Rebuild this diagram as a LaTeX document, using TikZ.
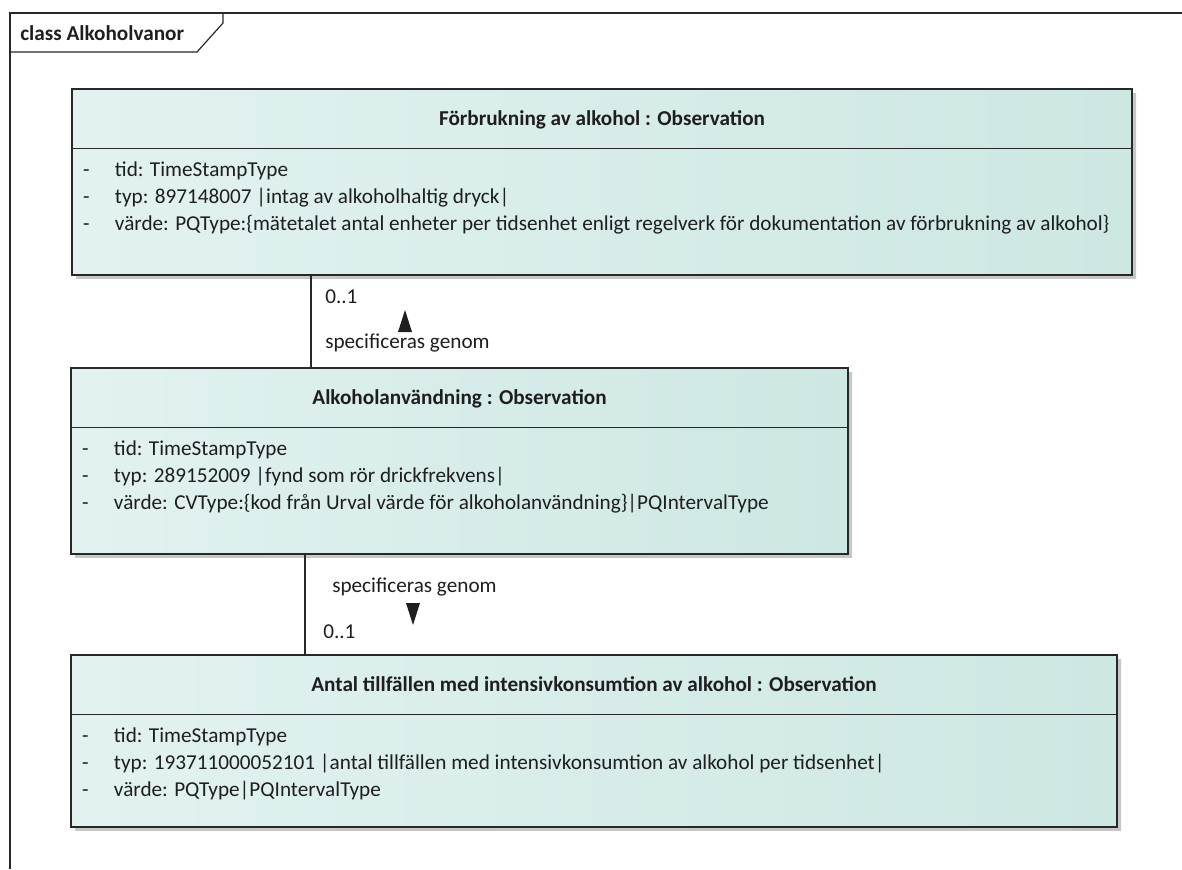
\documentclass[tikz,border=0pt]{standalone}
\usepackage{fontspec}
\setmainfont{Carlito}
\usetikzlibrary{positioning}
\usetikzlibrary{shapes.multipart}
\usetikzlibrary{shadows}

\definecolor{clsleft}{RGB}{226,242,241}
\definecolor{clsright}{RGB}{205,231,227}
\definecolor{clsline}{RGB}{40,40,40}
\definecolor{txt}{RGB}{30,30,30}

\newcommand{\attr}[1]{\makebox[24pt][l]{-}#1}
\newcommand{\headstrut}{\rule[-16.75pt]{0pt}{43.5pt}}
\newcommand{\firststrut}{\rule{0pt}{20.75pt}}

\begin{document}
\begin{tikzpicture}[
    x=0.75pt, y=-0.75pt,
    umlclass/.style={rectangle split, rectangle split parts=2,
        rectangle split part align={center,left},
        draw=clsline, line width=1.1pt, left color=clsleft, right color=clsright,
        inner xsep=8.25pt, inner ysep=0pt, outer sep=0pt, anchor=north west,
        font=\fontsize{15.9}{20.25}\selectfont, text=txt,
        drop shadow={shadow xshift=3pt, shadow yshift=-3pt, fill=black!22, opacity=1}},
    assoc/.style={draw=clsline, line width=1.1pt},
    lbl/.style={inner sep=0pt, anchor=west, text=txt, font=\fontsize{15.9}{18}\selectfont},
    dirtip/.style={fill=txt}
]
\useasboundingbox (0,0) rectangle (1182,869);

% Frame
\draw[clsline, line width=0.9pt] (10,869) -- (10,13) -- (1182,13);
\draw[clsline, line width=0.9pt] (10,52) -- (197,52) -- (223,23) -- (223,13);
\node[lbl, font=\fontsize{15.9}{18}\selectfont\bfseries] (frametitle) at (20,33) {class Alkoholvanor};

% Classes
\node[umlclass, minimum width=795pt] (forbr) at (72,89) {\headstrut\textbf{Förbrukning av alkohol : Observation}
    \nodepart{two}\begin{tabular}{@{}l@{}}
    \firststrut\attr{tid: TimeStampType}\\
    \attr{typ: 897148007 |intag av alkoholhaltig dryck|}\\
    \attr{värde: PQType:\{mätetalet antal enheter per tidsenhet enligt regelverk för dokumentation av förbrukning av alkohol\}}\rule[-32.5pt]{0pt}{0pt}
    \end{tabular}};

\node[umlclass, minimum width=582.75pt] (anv) at (71,368) {\headstrut\textbf{Alkoholanvändning : Observation}
    \nodepart{two}\begin{tabular}{@{}l@{}}
    \firststrut\attr{tid: TimeStampType}\\
    \attr{typ: 289152009 |fynd som rör drickfrekvens|}\\
    \attr{värde: CVType:\{kod från Urval värde för alkoholanvändning\}|PQIntervalType}\rule[-32.5pt]{0pt}{0pt}
    \end{tabular}};

\node[umlclass, minimum width=784.5pt] (antal) at (71,655) {\headstrut\textbf{Antal tillfällen med intensivkonsumtion av alkohol : Observation}
    \nodepart{two}\begin{tabular}{@{}l@{}}
    \firststrut\attr{tid: TimeStampType}\\
    \attr{typ: 193711000052101 |antal tillfällen med intensivkonsumtion av alkohol per tidsenhet|}\\
    \attr{värde: PQType|PQIntervalType}\rule[-22pt]{0pt}{0pt}
    \end{tabular}};

% Associations
\draw[assoc] (forbr.south west) ++(239,0) coordinate (c1) -- (c1 |- anv.north);
\node[lbl] (mult1) at (325,297) {0..1};
\node[lbl] (role1) at (325,343) {specificeras genom};
\fill[dirtip] (405,310) -- (412,332) -- (398,332) -- cycle;

\draw[assoc] (anv.south west) ++(234,0) coordinate (c2) -- (c2 |- antal.north);
\node[lbl] (role2) at (332,587) {specificeras genom};
\fill[dirtip] (413,625) -- (420,603) -- (406,603) -- cycle;
\node[lbl] (mult2) at (323,632) {0..1};

\end{tikzpicture}
\end{document}
